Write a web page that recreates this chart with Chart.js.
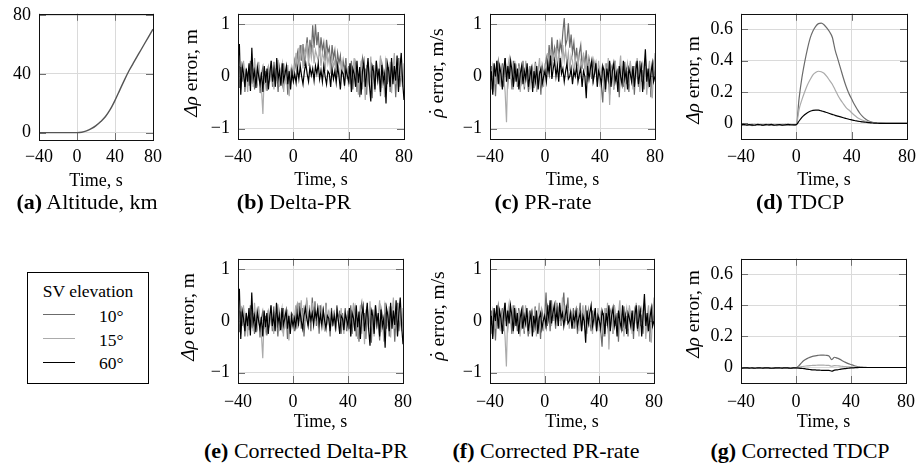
<!DOCTYPE html>
<html>
<head>
<meta charset="utf-8">
<script src="https://cdn.jsdelivr.net/npm/chart.js@4.4.1/dist/chart.umd.min.js"></script>
<style>
  body { margin: 0; width: 922px; height: 470px; position: relative; overflow: hidden; background: #fff;
         font-family: "Liberation Serif", "Times New Roman", serif; color: #000; }
  canvas { position: absolute; }
  .ylab { position: absolute; white-space: nowrap; font-size: 19.5px; line-height: 1;
          transform: translate(-50%, -50%) rotate(-90deg); }
  .rd { position: relative; }
  .rd span { position: absolute; left: 0.14em; top: 0; font-style: normal; }
  .cap { position: absolute; white-space: nowrap; font-size: 22px; line-height: 1; transform: translateX(-50%); }
  #legend { position: absolute; left: 27px; top: 272px; width: 120px; height: 110px; border: 1px solid #000; }
  #legend .t { position: absolute; white-space: nowrap; font-size: 17.5px; line-height: 1; }
  #legend .ln { position: absolute; left: 15px; width: 32px; height: 0; }
</style>
</head>
<body>
<div id="legend">
  <div class="t" style="left:60px; top:10px; transform:translateX(-50%)">SV elevation</div>
  <div class="ln" style="top:41px; border-top:1.4px solid #6b6b6b"></div>
  <div class="t" style="left:71px; top:35px">10°</div>
  <div class="ln" style="top:65px; border-top:1.4px solid #ababab"></div>
  <div class="t" style="left:71px; top:59px">15°</div>
  <div class="ln" style="top:89px; border-top:1.4px solid #000"></div>
  <div class="t" style="left:71px; top:82px">60°</div>
</div>
<script>
// ---- DATA ----
const timeTicks = [-40, 0, 40, 80];
const altTicks = [0, 40, 80];
const errTicks = [-1, 0, 1];
const tdcpTicks = [0, 0.2, 0.4, 0.6];

// (a) altitude
const altTime = [-40, -30, -20, -10, 0, 5, 10, 15, 20, 25, 30, 35, 40, 45, 50, 55, 60, 65, 70, 75, 80];
const altitudeKm = [0, 0, 0, 0, 0, 0.3, 1.2, 2.7, 4.8, 7.6, 11, 15.8, 22, 29, 36, 42.5, 48.2, 53.8, 59.4, 65, 70.5];

// 1 s samples for the noisy panels
const noiseTime = [
  -40, -39, -38, -37, -36, -35, -34, -33, -32, -31, -30, -29, -28, -27, -26, -25, -24, -23, -22, -21,
  -20, -19, -18, -17, -16, -15, -14, -13, -12, -11, -10, -9, -8, -7, -6, -5, -4, -3, -2, -1,
  0, 1, 2, 3, 4, 5, 6, 7, 8, 9, 10, 11, 12, 13, 14, 15, 16, 17, 18, 19,
  20, 21, 22, 23, 24, 25, 26, 27, 28, 29, 30, 31, 32, 33, 34, 35, 36, 37, 38, 39,
  40, 41, 42, 43, 44, 45, 46, 47, 48, 49, 50, 51, 52, 53, 54, 55, 56, 57, 58, 59,
  60, 61, 62, 63, 64, 65, 66, 67, 68, 69, 70, 71, 72, 73, 74, 75, 76, 77, 78, 79, 80];

// (b) Delta-PR
const deltaPr10 = [
  0.05, -0.22, 0.18, -0.1, 0.25, -0.3, 0.12, 0.02, -0.18, 0.3, -0.05, 0.15, -0.25, 0.08, -0.12, 0.22, -0.32, 0.05, 0.18, -0.15,
  0.1, -0.28, 0.2, -0.05, 0.15, -0.2, 0.28, -0.1, 0.05, -0.3, 0.18, 0.02, -0.15, 0.25, -0.08, 0.12, -0.35, 0.05, -0.12, 0.15,
  -0.05, 0.3, 0.15, 0.45, 0.25, 0.6, 0.3, 0.62, 0.2, 0.5, 0.75, 0.35, 0.7, 0.45, 0.98, 0.55, 1.0, 0.6, 0.85, 0.4,
  0.75, 0.5, 0.65, 0.3, 0.7, 0.45, 0.55, 0.2, 0.6, 0.35, 0.5, 0.15, 0.45, 0.25, 0.4, 0.05, 0.3, 0.1, 0.35, -0.05,
  0.2, -0.15, 0.3, -0.25, 0.1, 0.25, -0.3, 0.05, -0.4, 0.2, 0.35, -0.1, 0.15, -0.35, 0.28, -0.05, 0.12, -0.42, 0.22, -0.18,
  0.3, -0.1, 0.05, -0.38, 0.25, 0.1, -0.2, 0.35, -0.15, 0.18, -0.3, 0.28, -0.05, 0.2, -0.4, 0.15, 0.35, -0.2, 0.1, -0.12, 0.05];
const deltaPr15 = [
  -0.1, 0.2, -0.25, 0.1, 0.3, -0.15, 0.05, -0.3, 0.22, -0.08, 0.15, -0.2, 0.35, 0.0, -0.12, 0.28, -0.05, -0.25, -0.72, 0.05,
  -0.18, 0.12, 0.2, -0.1, 0.3, 0.05, -0.25, 0.15, -0.08, 0.32, -0.2, 0.1, 0.25, -0.3, 0.08, -0.15, 0.22, -0.38, 0.1, -0.05,
  0.05, 0.2, 0.45, 0.1, 0.55, 0.3, 0.6, 0.15, 0.5, 0.4, 0.65, 0.2, 0.55, 0.35, 0.6, 0.25, 0.5, 0.4, 0.3, 0.55,
  0.2, 0.45, 0.35, 0.1, 0.5, 0.25, 0.4, 0.05, 0.35, 0.2, 0.3, -0.05, 0.25, 0.15, -0.1, 0.3, 0.05, -0.15, 0.2, 0.1,
  -0.2, 0.25, -0.3, 0.1, 0.35, -0.15, 0.2, -0.35, 0.05, 0.3, -0.25, 0.15, -0.45, 0.22, 0.0, -0.2, 0.38, -0.1, 0.12, -0.3,
  0.25, -0.15, 0.1, 0.4, -0.22, 0.05, -0.4, 0.3, 0.15, -0.1, 0.28, -0.32, 0.1, 0.45, -0.15, 0.2, -0.28, 0.35, 0.0, -0.2, 0.25];
const deltaPr60 = [
  0.3, 0.62, -0.35, 0.2, 0.05, -0.2, 0.15, -0.1, 0.25, -0.28, 0.55, -0.05, 0.1, -0.22, 0.18, 0.0, -0.15, 0.08, -0.3, 0.2,
  -0.12, 0.15, -0.25, 0.05, 0.3, -0.1, 0.12, -0.2, 0.35, -0.05, 0.1, -0.18, 0.25, -0.08, 0.05, 0.2, -0.15, 0.1, -0.25, 0.08,
  -0.1, 0.05, -0.12, 0.15, -0.05, 0.2, 0.0, -0.15, 0.1, 0.25, 0.05, -0.1, 0.18, 0.02, 0.15, -0.08, 0.2, 0.05, 0.25, -0.05,
  0.12, -0.1, 0.2, 0.0, -0.15, 0.1, 0.05, -0.2, 0.15, -0.05, 0.1, -0.12, 0.2, 0.0, -0.25, 0.1, 0.05, -0.18, 0.15, 0.02,
  -0.1, 0.25, -0.3, 0.15, 0.05, -0.2, 0.3, -0.12, 0.18, -0.35, 0.1, 0.28, -0.2, 0.05, 0.35, -0.15, -0.48, 0.2, 0.1, -0.25,
  0.3, -0.05, 0.15, -0.3, 0.22, -0.1, 0.05, -0.52, 0.25, 0.1, -0.2, 0.35, -0.15, 0.2, -0.08, 0.4, -0.3, 0.15, 0.45, -0.1, -0.45];

// (c) PR-rate
const prRate10 = [
  -0.05, 0.2, -0.3, 0.1, -0.38, 0.15, 0.3, -0.1, 0.05, 0.25, -0.2, 0.35, 0.0, -0.15, 0.22, 0.1, -0.25, 0.3, -0.05, 0.15,
  -0.2, 0.25, 0.05, -0.1, 0.3, -0.25, 0.12, 0.0, -0.3, 0.2, -0.05, 0.15, -0.22, 0.28, 0.05, -0.15, 0.1, -0.35, 0.2, 0.05,
  0.15, 0.35, 0.1, 0.6, 0.25, 0.75, 0.3, 0.55, 0.4, 0.7, 0.35, 0.65, 0.5, 0.85, 1.12, 0.6, 0.7, 1.02, 0.55, 0.8,
  0.45, 0.65, 0.3, 0.55, 0.2, 0.45, 0.6, 0.15, 0.4, 0.25, 0.5, 0.05, 0.35, 0.2, -0.05, 0.3, 0.1, 0.25, -0.1, 0.2,
  0.05, -0.2, -0.5, 0.15, -0.3, 0.25, 0.0, -0.35, 0.2, 0.1, -0.25, 0.3, -0.1, 0.15, -0.4, 0.2, 0.05, -0.2, 0.28, -0.15,
  0.1, -0.3, 0.25, -0.05, 0.15, -0.35, 0.2, 0.05, -0.2, 0.3, -0.1, 0.12, -0.25, 0.35, 0.0, -0.15, 0.2, -0.4, 0.1, 0.25, -0.05];
const prRate15 = [
  0.1, -0.25, 0.2, 0.05, -0.15, 0.3, -0.1, 0.25, -0.2, 0.15, 0.0, -0.3, -0.88, 0.2, 0.35, -0.05, 0.15, -0.25, 0.3, 0.05,
  -0.1, 0.2, -0.3, 0.15, 0.05, -0.2, 0.3, -0.05, 0.1, -0.25, 0.2, 0.0, -0.15, 0.25, -0.3, 0.1, 0.35, -0.1, 0.05, -0.2,
  0.25, 0.05, 0.45, 0.2, 0.5, 0.1, 0.4, 0.3, 0.55, 0.15, 0.45, 0.35, 0.2, 0.6, 0.3, 0.5, 0.25, 0.45, 0.1, 0.4,
  0.3, 0.05, 0.35, 0.15, 0.4, -0.05, 0.3, 0.2, 0.45, 0.1, 0.25, -0.1, 0.3, 0.05, 0.2, -0.15, 0.25, 0.1, -0.05, 0.3,
  -0.2, 0.15, 0.05, -0.3, 0.25, -0.1, 0.35, -0.55, 0.1, 0.2, -0.25, 0.3, 0.0, -0.2, 0.15, 0.4, -0.1, 0.2, -0.3, 0.1,
  0.25, -0.15, 0.3, 0.05, -0.25, 0.2, -0.05, 0.35, 0.1, -0.3, 0.15, 0.25, -0.1, 0.2, -0.35, 0.1, 0.3, -0.2, -0.42, 0.1, 0.45];
const prRate60 = [
  -0.2, 0.1, -0.35, 0.25, 0.0, 0.3, -0.15, 0.2, 0.05, -0.25, 0.15, 0.35, -0.1, 0.2, -0.05, 0.3, 0.1, -0.2, 0.25, -0.1,
  0.15, -0.25, 0.05, 0.2, -0.15, 0.1, -0.05, 0.25, -0.2, 0.0, 0.15, -0.3, 0.1, -0.1, 0.2, -0.25, 0.05, 0.15, -0.15, 0.0,
  0.1, -0.1, 0.25, 0.05, 0.4, -0.05, 0.15, 0.3, 0.0, 0.2, -0.1, 0.35, 0.05, 0.15, -0.1, 0.1, 0.25, -0.05, 0.0, 0.15,
  -0.15, 0.1, 0.0, 0.2, -0.1, 0.05, 0.15, -0.2, 0.1, 0.0, -0.42, 0.2, -0.05, 0.15, 0.3, -0.1, 0.05, 0.25, -0.2, 0.1,
  0.0, -0.15, 0.2, 0.1, -0.25, 0.15, -0.05, 0.3, -0.2, 0.1, 0.25, -0.1, 0.05, -0.3, 0.2, 0.0, -0.15, 0.3, -0.05, 0.1,
  -0.25, 0.15, 0.05, -0.1, 0.2, -0.2, 0.1, 0.3, -0.15, 0.05, 0.2, -0.3, 0.1, 0.52, -0.1, 0.15, -0.2, 0.05, 0.25, -0.1, 0.0];

// (e) Corrected Delta-PR
const corrDeltaPr10 = [
  0.05, -0.22, 0.18, -0.1, 0.25, -0.3, 0.12, 0.02, -0.18, 0.3, -0.05, 0.15, -0.25, 0.08, -0.12, 0.22, -0.32, 0.05, 0.18, -0.15,
  0.1, -0.28, 0.2, -0.05, 0.15, -0.2, 0.28, -0.1, 0.05, -0.3, 0.18, 0.02, -0.15, 0.25, -0.08, 0.12, -0.35, 0.05, -0.12, 0.15,
  0.1, -0.2, 0.15, 0.3, -0.1, 0.35, -0.15, 0.25, -0.3, 0.1, 0.4, -0.05, 0.2, -0.2, 0.45, 0.05, 0.38, -0.1, 0.25, -0.25,
  0.3, 0.05, 0.2, -0.2, 0.35, 0.0, 0.15, -0.3, 0.25, -0.1, 0.2, -0.2, 0.3, 0.0, 0.2, -0.25, 0.15, -0.15, 0.25, -0.2,
  0.2, -0.15, 0.3, -0.25, 0.1, 0.25, -0.3, 0.05, -0.4, 0.2, 0.35, -0.1, 0.15, -0.35, 0.28, -0.05, 0.12, -0.42, 0.22, -0.18,
  0.3, -0.1, 0.05, -0.38, 0.25, 0.1, -0.2, 0.35, -0.15, 0.18, -0.3, 0.28, -0.05, 0.2, -0.4, 0.15, 0.35, -0.2, 0.1, -0.12, 0.05];
const corrDeltaPr15 = [
  -0.1, 0.2, -0.25, 0.1, 0.3, -0.15, 0.05, -0.3, 0.22, -0.08, 0.15, -0.2, 0.35, 0.0, -0.12, 0.28, -0.05, -0.25, -0.72, 0.05,
  -0.18, 0.12, 0.2, -0.1, 0.3, 0.05, -0.25, 0.15, -0.08, 0.32, -0.2, 0.1, 0.25, -0.3, 0.08, -0.15, 0.22, -0.38, 0.1, -0.05,
  -0.1, 0.05, 0.3, -0.15, 0.35, 0.05, 0.4, -0.15, 0.3, 0.1, 0.45, -0.1, 0.3, 0.05, 0.35, -0.05, 0.25, 0.1, -0.05, 0.3,
  -0.05, 0.25, 0.1, -0.2, 0.3, 0.0, 0.2, -0.2, 0.2, 0.0, 0.15, -0.2, 0.15, 0.05, -0.2, 0.25, -0.05, -0.25, 0.15, 0.05,
  -0.2, 0.25, -0.3, 0.1, 0.35, -0.15, 0.2, -0.35, 0.05, 0.3, -0.25, 0.15, -0.45, 0.22, 0.0, -0.2, 0.38, -0.1, 0.12, -0.3,
  0.25, -0.15, 0.1, 0.4, -0.22, 0.05, -0.4, 0.3, 0.15, -0.1, 0.28, -0.32, 0.1, 0.45, -0.15, 0.2, -0.28, 0.35, 0.0, -0.2, 0.25];
const corrDeltaPr60 = deltaPr60; // 60° hardly changes with the correction

// (f) Corrected PR-rate
const corrPrRate10 = [
  -0.05, 0.2, -0.3, 0.1, -0.38, 0.15, 0.3, -0.1, 0.05, 0.25, -0.2, 0.35, 0.0, -0.15, 0.22, 0.1, -0.25, 0.3, -0.05, 0.15,
  -0.2, 0.25, 0.05, -0.1, 0.3, -0.25, 0.12, 0.0, -0.3, 0.2, -0.05, 0.15, -0.22, 0.28, 0.05, -0.15, 0.1, -0.35, 0.2, 0.05,
  0.05, 0.55, -0.1, 0.3, -0.2, 0.4, 0.0, 0.25, -0.15, 0.35, 0.05, 0.3, -0.1, 0.25, 0.55, 0.0, 0.15, 0.45, -0.05, 0.2,
  -0.1, 0.25, -0.15, 0.2, -0.25, 0.1, 0.35, -0.2, 0.15, -0.05, 0.3, -0.15, 0.2, 0.0, -0.2, 0.2, -0.05, 0.15, -0.2, 0.1,
  0.05, -0.2, -0.5, 0.15, -0.3, 0.25, 0.0, -0.35, 0.2, 0.1, -0.25, 0.3, -0.1, 0.15, -0.4, 0.2, 0.05, -0.2, 0.28, -0.15,
  0.1, -0.3, 0.25, -0.05, 0.15, -0.35, 0.2, 0.05, -0.2, 0.3, -0.1, 0.12, -0.25, 0.35, 0.0, -0.15, 0.2, -0.4, 0.1, 0.25, -0.05];
const corrPrRate15 = [
  0.1, -0.25, 0.2, 0.05, -0.15, 0.3, -0.1, 0.25, -0.2, 0.15, 0.0, -0.3, -0.88, 0.2, 0.35, -0.05, 0.15, -0.25, 0.3, 0.05,
  -0.1, 0.2, -0.3, 0.15, 0.05, -0.2, 0.3, -0.05, 0.1, -0.25, 0.2, 0.0, -0.15, 0.25, -0.3, 0.1, 0.35, -0.1, 0.05, -0.2,
  0.1, -0.15, 0.3, 0.0, 0.35, -0.1, 0.2, 0.1, 0.4, -0.1, 0.25, 0.15, -0.05, 0.45, 0.05, 0.3, 0.0, 0.25, -0.15, 0.2,
  0.1, -0.15, 0.2, -0.05, 0.25, -0.2, 0.15, 0.05, 0.3, -0.1, 0.1, -0.25, 0.2, -0.05, 0.1, -0.25, 0.15, 0.0, -0.15, 0.25,
  -0.2, 0.15, 0.05, -0.3, 0.25, -0.1, 0.35, -0.55, 0.1, 0.2, -0.25, 0.3, 0.0, -0.2, 0.15, 0.4, -0.1, 0.2, -0.3, 0.1,
  0.25, -0.15, 0.3, 0.05, -0.25, 0.2, -0.05, 0.35, 0.1, -0.3, 0.15, 0.25, -0.1, 0.2, -0.35, 0.1, 0.3, -0.2, -0.42, 0.1, 0.45];
const corrPrRate60 = prRate60;

// (d) TDCP and (g) corrected TDCP, 2 s samples
const tdcpTime = [-40, -38, -36, -34, -32, -30, -28, -26, -24, -22, -20, -18, -16, -14, -12, -10, -8, -6, -4, -2,
  0, 2, 4, 6, 8, 10, 12, 14, 16, 18, 20, 22, 24, 26, 28, 30, 32, 34, 36, 38, 40, 42, 44, 46, 48, 50, 52, 54, 56, 58, 60,
  65, 70, 75, 80];
const tdcp10 = [-0.008, -0.012, -0.006, -0.01, -0.014, -0.007, -0.011, -0.009, -0.013, -0.006, -0.01, -0.012, -0.008, -0.014, -0.009, -0.011, -0.007, -0.012, -0.01, -0.008,
  -0.008, 0.16, 0.29, 0.39, 0.475, 0.545, 0.59, 0.62, 0.637, 0.64, 0.63, 0.61, 0.585, 0.55, 0.47, 0.41, 0.35, 0.29, 0.235, 0.19,
  0.155, 0.12, 0.09, 0.063, 0.043, 0.028, 0.017, 0.01, 0.005, 0.002, 0.001, 0, 0, 0, 0];
const tdcp15 = [-0.006, -0.01, -0.008, -0.012, -0.005, -0.009, -0.011, -0.007, -0.01, -0.013, -0.006, -0.009, -0.011, -0.008, -0.012, -0.006, -0.01, -0.009, -0.007, -0.011,
  -0.008, 0.09, 0.15, 0.2, 0.245, 0.28, 0.31, 0.325, 0.333, 0.33, 0.32, 0.3, 0.275, 0.25, 0.215, 0.18, 0.15, 0.125, 0.1, 0.085,
  0.068, 0.052, 0.038, 0.028, 0.02, 0.014, 0.01, 0.006, 0.004, 0.002, 0.001, 0, 0, 0, 0];
const tdcp60 = [-0.009, -0.007, -0.011, -0.008, -0.01, -0.012, -0.006, -0.009, -0.011, -0.008, -0.01, -0.007, -0.012, -0.009, -0.008, -0.011, -0.01, -0.007, -0.009, -0.01,
  -0.008, 0.015, 0.038, 0.055, 0.068, 0.077, 0.083, 0.085, 0.084, 0.08, 0.075, 0.069, 0.063, 0.057, 0.051, 0.046, 0.041, 0.036, 0.031, 0.026,
  0.022, 0.018, 0.015, 0.012, 0.009, 0.007, 0.005, 0.003, 0.002, 0.001, 0, 0, 0, 0, 0];
const corrTdcp10 = [-0.002, -0.004, -0.003, -0.005, -0.002, -0.003, -0.004, -0.002, -0.005, -0.003, -0.002, -0.004, -0.003, -0.005, -0.002, -0.004, -0.003, -0.002, -0.004, -0.003,
  -0.003, 0.01, 0.03, 0.046, 0.057, 0.065, 0.071, 0.075, 0.078, 0.08, 0.08, 0.078, 0.074, 0.05, 0.066, 0.06, 0.052, 0.042, 0.033, 0.025,
  0.019, 0.013, 0.008, 0.004, 0.002, 0.001, 0, 0, 0, 0, 0, 0, 0, 0, 0];
const corrTdcp15 = [-0.003, -0.002, -0.004, -0.003, -0.002, -0.005, -0.003, -0.004, -0.002, -0.003, -0.004, -0.003, -0.002, -0.004, -0.005, -0.003, -0.002, -0.004, -0.003, -0.002,
  -0.003, 0.002, 0.005, 0.008, 0.01, 0.012, 0.013, 0.014, 0.015, 0.015, 0.015, 0.014, 0.013, 0.008, 0.012, 0.011, 0.009, 0.007, 0.005, 0.004,
  0.003, 0.002, 0.001, 0, 0, 0, 0, 0, 0, 0, 0, 0, 0, 0, 0];
const corrTdcp60 = [-0.004, -0.003, -0.002, -0.004, -0.003, -0.005, -0.002, -0.003, -0.004, -0.002, -0.003, -0.005, -0.004, -0.002, -0.003, -0.004, -0.002, -0.003, -0.005, -0.003,
  -0.003, -0.004, -0.006, -0.008, -0.011, -0.013, -0.015, -0.016, -0.017, -0.018, -0.019, -0.019, -0.019, -0.024, -0.017, -0.015, -0.012, -0.009, -0.007, -0.005,
  -0.003, -0.002, -0.001, 0, 0, 0, 0, 0, 0, 0, 0, 0, 0, 0, 0];

// ---- STYLE ----
const FONT = '"Liberation Serif", "Times New Roman", serif';
const C10 = '#6b6b6b', C15 = '#ababab', C60 = '#000000';
const GRID = '#dadada';
const TICK_LEN = 7;

const fmt = v => (v < 0 ? '\u2212' + Math.abs(v) : String(v));

// frame + inner tick marks (pgfplots look)
const framePlugin = {
  id: 'frame',
  beforeDatasetsDraw(chart) {
    const { ctx, chartArea: a, scales: { x, y } } = chart;
    ctx.save();
    ctx.strokeStyle = '#707070';
    ctx.lineWidth = 1;
    ctx.beginPath();
    x.ticks.forEach(t => {
      const px = Math.round(x.getPixelForValue(t.value)) + 0.5;
      ctx.moveTo(px, a.top); ctx.lineTo(px, a.top + TICK_LEN);
      ctx.moveTo(px, a.bottom); ctx.lineTo(px, a.bottom - TICK_LEN);
    });
    y.ticks.forEach(t => {
      const py = Math.round(y.getPixelForValue(t.value)) + 0.5;
      ctx.moveTo(a.left, py); ctx.lineTo(a.left + TICK_LEN, py);
      ctx.moveTo(a.right, py); ctx.lineTo(a.right - TICK_LEN, py);
    });
    ctx.stroke();
    ctx.restore();
  },
  afterDatasetsDraw(chart) {
    const { ctx, chartArea: a } = chart;
    ctx.save();
    ctx.strokeStyle = '#111';
    ctx.lineWidth = 1;
    ctx.strokeRect(Math.round(a.left) + 0.5, Math.round(a.top) + 0.5,
                   Math.round(a.right - a.left), Math.round(a.bottom - a.top));
    ctx.restore();
  }
};

function makePanel(p) {
  const yW = 60, padTop = 12, padRight = 14;
  const boxW = p.box.r - p.box.l, boxH = p.box.b - p.box.t;
  const w = yW + boxW + padRight, h = padTop + boxH + p.xH;
  const canvas = document.createElement('canvas');
  canvas.width = w; canvas.height = h;
  canvas.style.left = (p.box.l - yW) + 'px';
  canvas.style.top = (p.box.t - padTop) + 'px';
  canvas.style.width = w + 'px'; canvas.style.height = h + 'px';
  document.body.appendChild(canvas);

  const tickFont = { family: FONT, size: 18, weight: 'normal' };
  new Chart(canvas, {
    type: 'line',
    data: {
      labels: p.time,
      datasets: p.series.map(s => ({
        data: s.data, borderColor: s.color, borderWidth: s.width || 1.2,
        pointRadius: 0, fill: false,
        cubicInterpolationMode: p.smooth ? 'monotone' : 'default'
      }))
    },
    options: {
      responsive: false, animation: false, devicePixelRatio: 1, events: [],
      layout: { padding: { top: padTop, right: padRight, left: 0, bottom: 0 } },
      plugins: { legend: { display: false }, tooltip: { enabled: false } },
      scales: {
        x: {
          type: 'linear', min: -40, max: 80,
          afterBuildTicks: s => { s.ticks = timeTicks.map(v => ({ value: v })); },
          afterFit: s => { s.height = p.xH; },
          grid: { color: GRID, drawTicks: false },
          border: { display: false },
          ticks: { padding: p.tickPad, color: '#000', font: tickFont, autoSkip: false, maxRotation: 0, callback: v => fmt(v) },
          title: { display: true, text: 'Time, s', color: '#000', font: { family: FONT, size: 18, weight: 'normal' }, padding: 0 }
        },
        y: {
          type: 'linear', min: p.yMin, max: p.yMax,
          afterBuildTicks: s => { s.ticks = p.yTicks.map(v => ({ value: v })); },
          afterFit: s => { s.width = yW; },
          grid: { color: GRID, drawTicks: false },
          border: { display: false },
          ticks: { padding: 8, color: '#000', font: tickFont, callback: v => fmt(v) }
        }
      }
    },
    plugins: [framePlugin]
  });
}

const top1 = { t: 7, b: 139 }, top2 = { t: 252, b: 383 };
const panels = [
  { time: altTime, yMin: -5, yMax: 81, yTicks: altTicks, box: { l: 39, r: 154, t: 7, b: 140 }, xH: 52, tickPad: 6, smooth: true,
    series: [{ data: altitudeKm, color: '#555', width: 1.4 }] },
  { time: noiseTime, yMin: -1.2, yMax: 1.2, yTicks: errTicks, box: { l: 238, r: 406, ...top1 }, xH: 52, tickPad: 7,
    series: [{ data: deltaPr60, color: C60 }, { data: deltaPr15, color: C15 }, { data: deltaPr10, color: C10 }] },
  { time: noiseTime, yMin: -1.2, yMax: 1.2, yTicks: errTicks, box: { l: 490, r: 657, ...top1 }, xH: 52, tickPad: 7,
    series: [{ data: prRate60, color: C60 }, { data: prRate15, color: C15 }, { data: prRate10, color: C10 }] },
  { time: tdcpTime, yMin: -0.1, yMax: 0.7, yTicks: tdcpTicks, box: { l: 741, r: 909, ...top1 }, xH: 52, tickPad: 7, smooth: true,
    series: [{ data: tdcp60, color: C60 }, { data: tdcp15, color: C15 }, { data: tdcp10, color: C10 }] },
  { time: noiseTime, yMin: -1.2, yMax: 1.2, yTicks: errTicks, box: { l: 238, r: 406, ...top2 }, xH: 50, tickPad: 8,
    series: [{ data: corrDeltaPr60, color: C60 }, { data: corrDeltaPr15, color: C15 }, { data: corrDeltaPr10, color: C10 }] },
  { time: noiseTime, yMin: -1.2, yMax: 1.2, yTicks: errTicks, box: { l: 490, r: 657, ...top2 }, xH: 50, tickPad: 8,
    series: [{ data: corrPrRate60, color: C60 }, { data: corrPrRate15, color: C15 }, { data: corrPrRate10, color: C10 }] },
  { time: tdcpTime, yMin: -0.1, yMax: 0.7, yTicks: tdcpTicks, box: { l: 741, r: 909, ...top2 }, xH: 50, tickPad: 8, smooth: true,
    series: [{ data: corrTdcp60, color: C60 }, { data: corrTdcp15, color: C15 }, { data: corrTdcp10, color: C10 }] }
];
panels.forEach(makePanel);

// rotated y-axis titles (math italic Δρ / ρ with a dot above)
const DRHO = '<i>Δρ</i> error, m';
const RHODOT = '<i class="rd">ρ<span>˙</span></i> error, m/s';
const yTitles = [
  { html: DRHO, x: 191, y: 73 },
  { html: RHODOT, x: 437, y: 73 },
  { html: DRHO, x: 693, y: 80 },
  { html: DRHO, x: 188, y: 317 },
  { html: RHODOT, x: 438, y: 316 },
  { html: DRHO, x: 693, y: 314 }
];
yTitles.forEach(t => {
  const d = document.createElement('div');
  d.className = 'ylab';
  d.innerHTML = t.html;
  d.style.left = t.x + 'px'; d.style.top = t.y + 'px';
  document.body.appendChild(d);
});

// sub-figure captions
const captions = [
  { html: '<b>(a)</b> Altitude, km', x: 87, top: 191 },
  { html: '<b>(b)</b> Delta-PR', x: 294, top: 191 },
  { html: '<b>(c)</b> PR-rate', x: 543, top: 191 },
  { html: '<b>(d)</b> TDCP', x: 800, top: 191 },
  { html: '<b>(e)</b> Corrected Delta-PR', x: 306, top: 440 },
  { html: '<b>(f)</b> Corrected PR-rate', x: 546, top: 440 },
  { html: '<b>(g)</b> Corrected TDCP', x: 800, top: 440 }
];
captions.forEach(c => {
  const d = document.createElement('div');
  d.className = 'cap';
  d.innerHTML = c.html;
  d.style.left = c.x + 'px'; d.style.top = c.top + 'px';
  document.body.appendChild(d);
});
</script>
</body>
</html>
